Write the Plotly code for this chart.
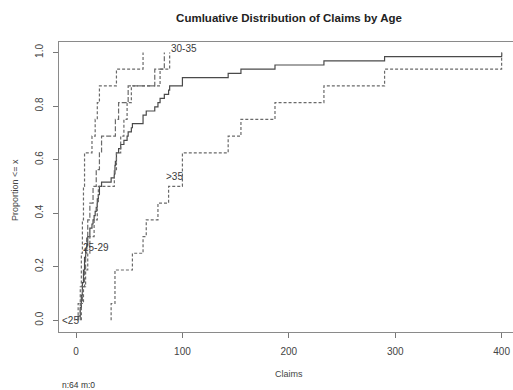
import numpy as np
import plotly.graph_objects as go

# Claims by age group (16 policies per group, 64 in total)
claims_lt25 = [2, 4, 5, 5, 6, 6, 7, 7, 8, 8, 15, 18, 20, 22, 38, 63]
claims_25_29 = [4, 6, 8, 9, 10, 11, 13, 16, 19, 22, 24, 37, 40, 49, 74, 83]
claims_30_35 = [5, 7, 9, 11, 13, 17, 20, 21, 36, 38, 42, 45, 48, 52, 79, 88]
claims_gt35 = [33, 36.6, 36.6, 53, 63, 66, 77, 87, 100, 100, 143, 155, 187, 233, 290, 400]

group_names = ["<25", "25-29", "30-35", ">35"]
groups = [claims_lt25, claims_25_29, claims_30_35, claims_gt35]
group_dash = ["3px,2px", "5px,2px", "3px,2px", "3px,2px"]

x_ticks = [0, 100, 200, 300, 400]
y_ticks = [0.0, 0.2, 0.4, 0.6, 0.8, 1.0]
y_tick_text = ["0.0", "0.2", "0.4", "0.6", "0.8", "1.0"]

# plot area in pixels (left, top, right, bottom)
PL, PT, PR, PB = 59, 42, 513, 332


def px_to_paper(px, py):
    return (px - PL) / (PR - PL), (PB - py) / (PB - PT)


def ecdf_steps(values):
    v = np.sort(np.asarray(values, dtype=float))
    uniq, counts = np.unique(v, return_counts=True)
    frac = np.cumsum(counts) / len(v)
    xs = np.concatenate([[uniq[0]], uniq])
    ys = np.concatenate([[0.0], frac])
    return xs, ys


fig = go.Figure()

# overall distribution, solid
all_claims = np.concatenate([np.asarray(g, dtype=float) for g in groups])
xs, ys = ecdf_steps(all_claims)
fig.add_trace(go.Scatter(x=xs, y=ys, mode="lines", line_shape="hv",
                         line=dict(color="#4a4a4a", width=1.2),
                         showlegend=False, hoverinfo="skip"))

# one broken step curve per age group
for name, g, dash in zip(group_names, groups, group_dash):
    xs, ys = ecdf_steps(g)
    fig.add_trace(go.Scatter(x=xs, y=ys, mode="lines", line_shape="hv",
                             line=dict(color="#6a6a6a", width=1.2, dash=dash),
                             name=name, showlegend=False, hoverinfo="skip"))

# curve labels
label_pos = {"<25": (-5.5, 0.0), "25-29": (18.5, 0.27),
             "30-35": (101.5, 1.016), ">35": (93, 0.536)}
for name in group_names:
    lx, ly = label_pos[name]
    fig.add_annotation(x=lx, y=ly, text=name, showarrow=False,
                       font=dict(family="Liberation Sans, Arial", size=10, color="#3a3a3a"),
                       xanchor="center", yanchor="middle")

fig.update_layout(
    width=513, height=390,
    margin=dict(l=PL, r=513 - PR, t=PT, b=390 - PB),
    paper_bgcolor="white", plot_bgcolor="white",
    font=dict(family="Liberation Sans, Arial", size=10, color="#3a3a3a"),
    title=dict(text="<b>Cumluative Distribution of Claims by Age</b>",
               x=289 / 513, xanchor="center", y=1 - 18 / 390, yanchor="middle",
               font=dict(size=11.5, color="#222222")),
    xaxis=dict(range=[-16, 410.7], tickvals=x_ticks, ticks="outside", ticklen=5,
               tickcolor="#777777", showline=True, linecolor="#8a8a8a", linewidth=1.2,
               mirror=True, showgrid=False, zeroline=False, ticklabelstandoff=5,
               tickfont=dict(size=10, color="#444444")),
    yaxis=dict(range=[-0.044, 1.039], tickvals=y_ticks, ticktext=y_tick_text,
               ticks="outside", ticklen=5, tickcolor="#777777", tickangle=-90,
               showline=True, linecolor="#8a8a8a", linewidth=1.2,
               showgrid=False, zeroline=False, ticklabelstandoff=6,
               tickfont=dict(size=10, color="#444444")),
)

cx, cy = px_to_paper(289, 374)
fig.add_annotation(x=cx, y=cy, xref="paper", yref="paper",
                   text="Claims", showarrow=False, xanchor="center", yanchor="middle",
                   font=dict(size=9, color="#444444"))
cx, cy = px_to_paper(15, 190)
fig.add_annotation(x=cx, y=cy, xref="paper", yref="paper",
                   text="Proportion <= x", showarrow=False, textangle=-90,
                   xanchor="center", yanchor="middle",
                   font=dict(size=9, color="#444444"))
cx, cy = px_to_paper(60, 385)
fig.add_annotation(x=cx, y=cy, xref="paper", yref="paper",
                   text="n:64 m:0", showarrow=False, xanchor="left", yanchor="middle",
                   font=dict(size=8.5, color="#333333"))

fig.write_html("out.html")
